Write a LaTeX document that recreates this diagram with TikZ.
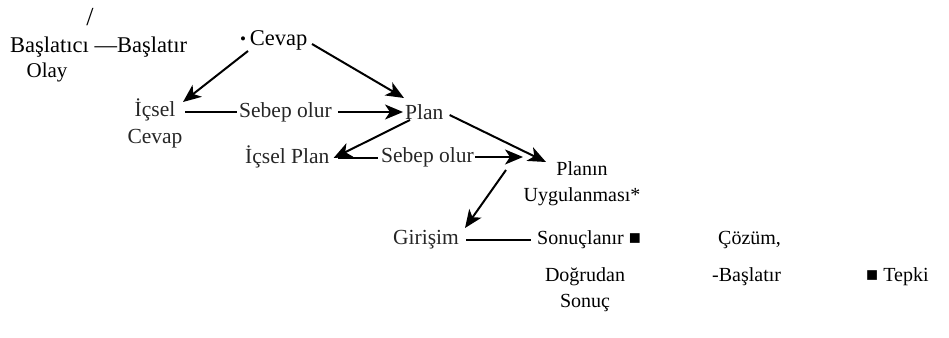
\documentclass[tikz,border=0pt]{standalone}
\usepackage{fontspec}
\setmainfont{Liberation Serif}
\usetikzlibrary{arrows.meta}
\begin{document}
\begin{tikzpicture}[x=1pt,y=-1pt,
  txt/.style={inner sep=0pt,font=\fontsize{20}{26}\selectfont,align=center},
  big/.style={txt,font=\fontsize{22.5}{26}\selectfont},
  scan/.style={txt,font=\fontsize{21.5}{27}\selectfont,text=black!85},
  arr/.style={line width=2pt,-{Stealth[length=18pt,width=15pt,inset=5pt]}},
  lnk/.style={line width=2.8pt},
  thin/.style={line width=1.4pt}]
\useasboundingbox (0,0) rectangle (949,337);
\node[txt,font=\fontsize{26}{26}\selectfont] (sl) at (90,17) {/};
\node[big,anchor=west] (bas) at (10,47) {Başlatıcı —Başlatır};
\node[txt,font=\fontsize{21}{26}\selectfont] (olay) at (47,72) {Olay};
\node[big,anchor=west] (cevap) at (240,40) {\raisebox{1pt}{\fontsize{17}{17}\selectfont•}\,Cevap};
\node[scan] (icsel) at (155,123) {İçsel\\Cevap};
\node[scan,anchor=west] (seb1) at (239,112) {Sebep olur};
\node[scan,anchor=west] (plan) at (405,112) {Plan};
\node[scan,anchor=west] (icplan) at (245,157) {İçsel Plan};
\node[scan,anchor=west] (seb2) at (381,157) {Sebep olur};
\node[txt] (planin) at (582,184) {Planın\\Uygulanması*};
\node[scan,anchor=west] (gir) at (393,240) {Girişim};
\node[txt,anchor=west] (son) at (537,240) {Sonuçlanır ■};
\node[txt,anchor=west] (coz) at (718,240) {Çözüm,};
\node[txt] (dog) at (585,290) {Doğrudan\\Sonuç};
\node[txt,anchor=west] (bas2) at (712,277) {-Başlatır};
\node[txt,anchor=west] (tep) at (866,277) {■ Tepki};
% connectors
\draw[arr] ([shift={(8,11)}]cevap.west) -- ([shift={(28,-21)}]icsel.center);
\draw[arr] ([shift={(72,4)}]cevap.west) -- ([shift={(-1,-14)}]plan.west);
\draw[lnk] ([shift={(30,-11)}]icsel.center) -- ([shift={(-2,0)}]seb1.west);
\draw[arr] ([shift={(6,0)}]seb1.east) -- ([shift={(-2,0)}]plan.west);
\draw[arr] ([shift={(5,8)}]plan.west) -- ([shift={(4,1)}]icplan.east);
\draw[arr] ([shift={(6,3)}]plan.east) -- ([shift={(-36,-22)}]planin.center);
\draw[thin] ([shift={(8,1)}]icplan.east) -- ([shift={(-3,1)}]seb2.west);
\draw[arr] ([shift={(1,0)}]seb2.east) -- ([shift={(-59,-27)}]planin.center);
\draw[arr] ([shift={(-76,-14)}]planin.center) -- ([shift={(72,-12)}]gir.west);
\draw[lnk] ([shift={(73,0)}]gir.west) -- ([shift={(-6,0)}]son.west);
\end{tikzpicture}
\end{document}
